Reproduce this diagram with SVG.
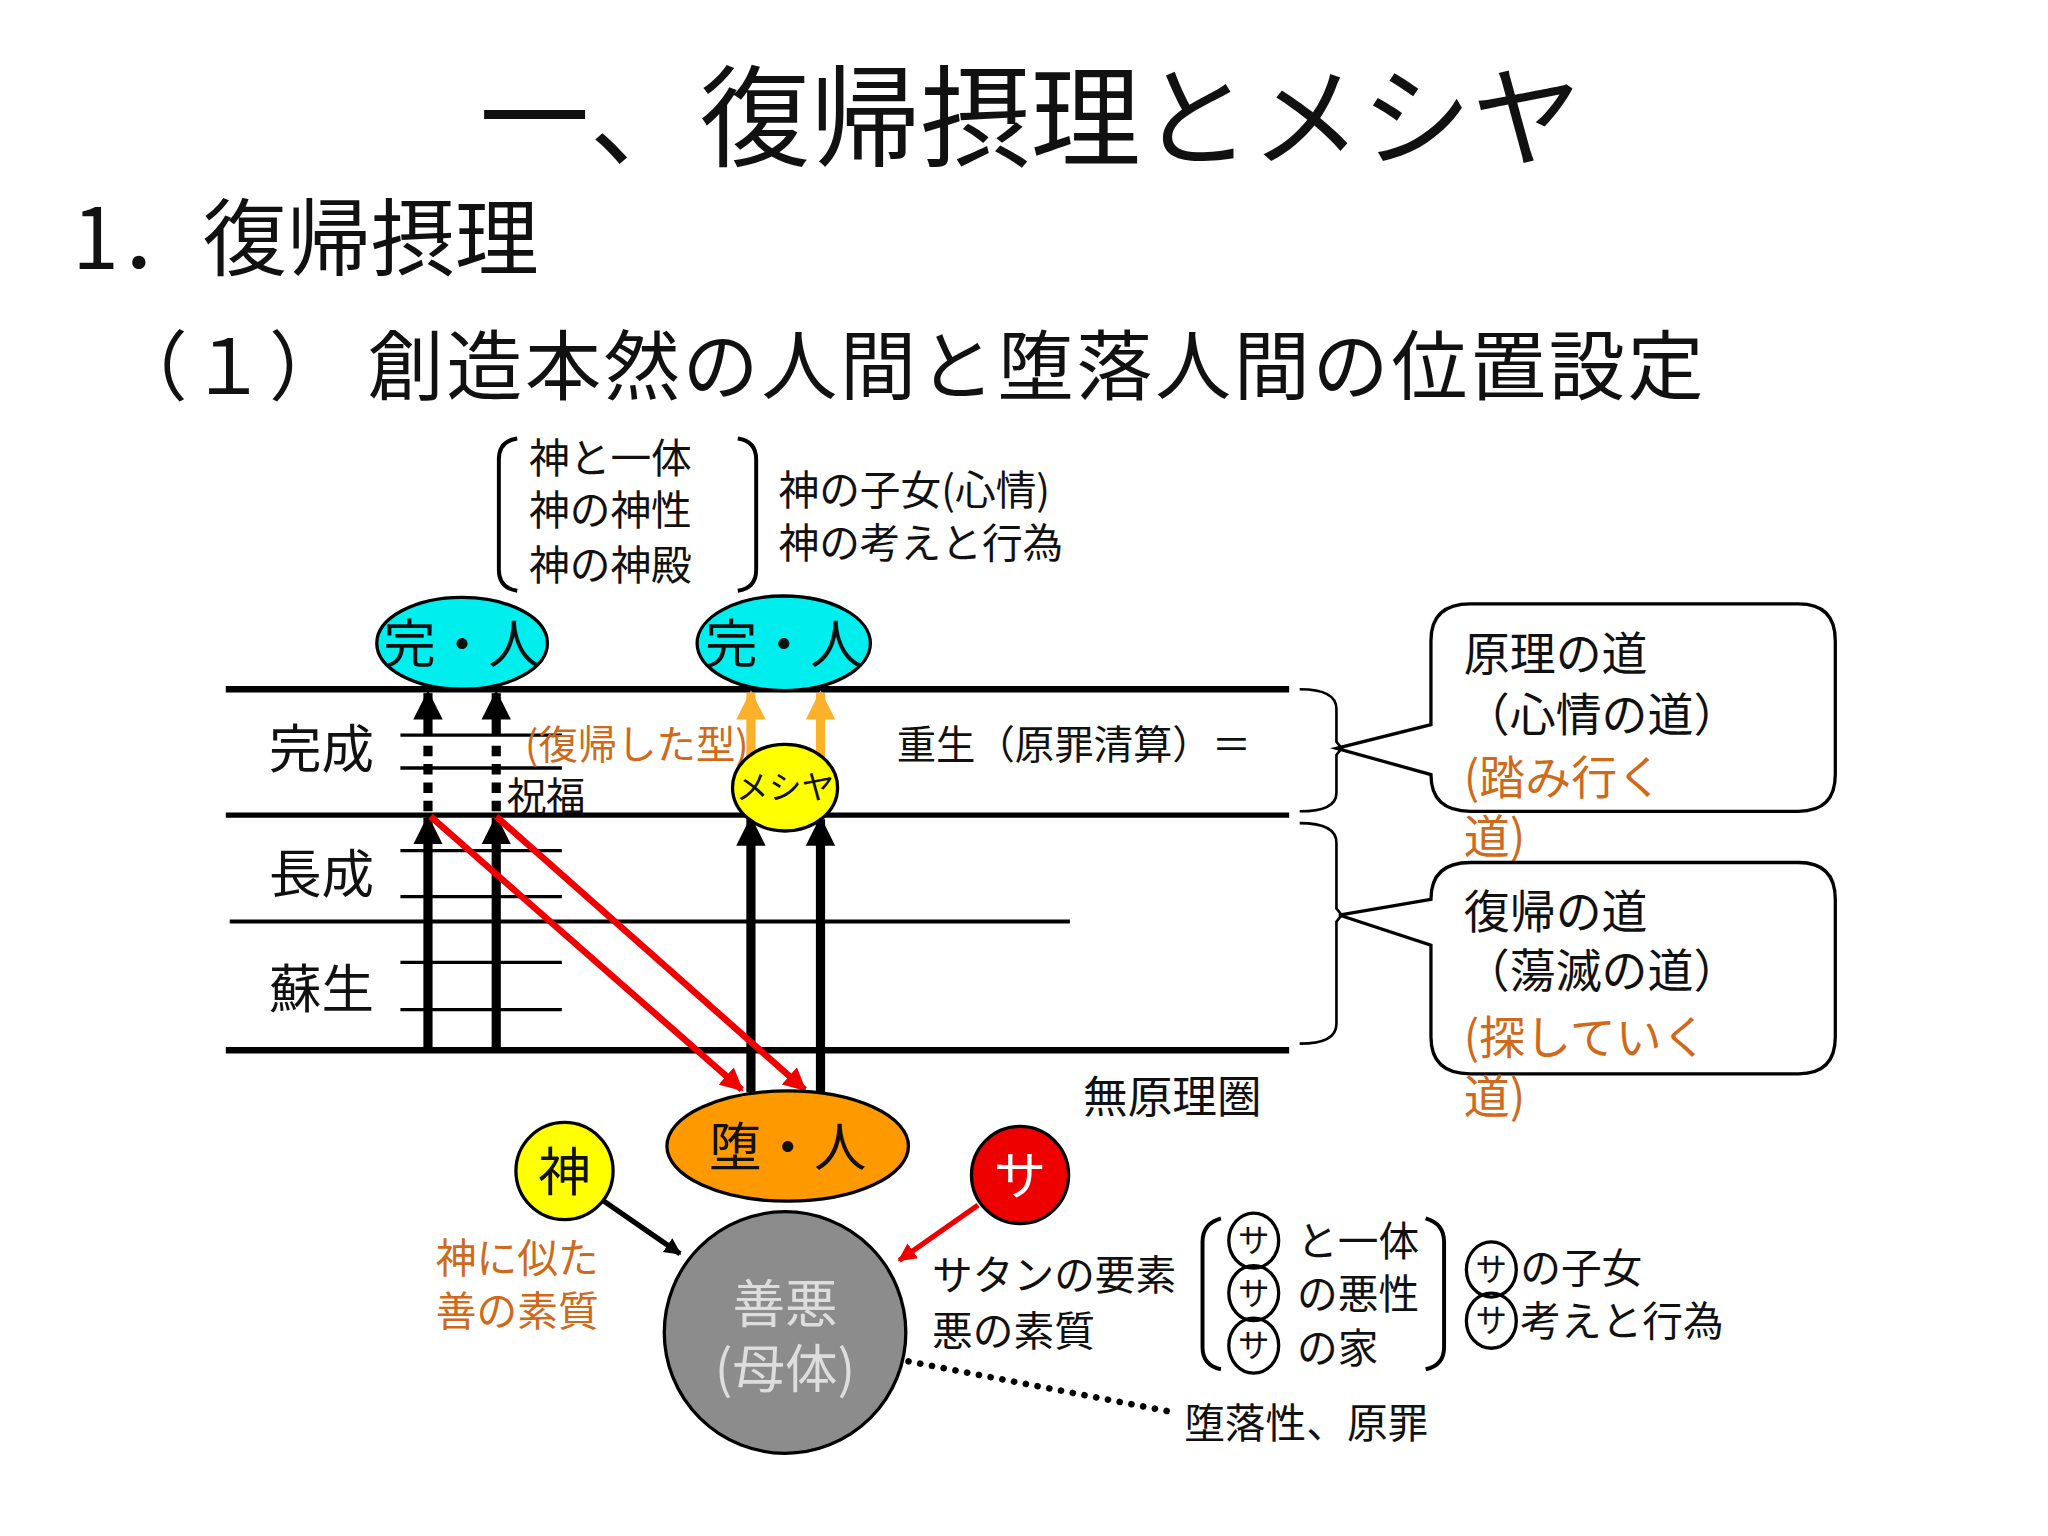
<svg xmlns="http://www.w3.org/2000/svg" width="2048" height="1536" viewBox="0 0 2048 1536">
<defs>
<style>
text{font-family:"Noto Sans CJK JP","Liberation Serif",sans-serif;fill:#111}
.o{fill:#d06a1a}
.k{stroke:#000;fill:none}
</style>
<marker id="ab" viewBox="0 0 10 10" refX="9" refY="5" markerWidth="3.2" markerHeight="4.5" orient="auto" markerUnits="strokeWidth"><path d="M0,0L10,5L0,10z" fill="#000"/></marker>
<marker id="ao" viewBox="0 0 10 10" refX="9" refY="5" markerWidth="3.2" markerHeight="4.5" orient="auto" markerUnits="strokeWidth"><path d="M0,0L10,5L0,10z" fill="#fbb12a"/></marker>
<marker id="ar" viewBox="0 0 10 10" refX="9" refY="5" markerWidth="3.5" markerHeight="3.5" orient="auto" markerUnits="strokeWidth"><path d="M0,0L10,5L0,10z" fill="#e00"/></marker>
</defs>
<rect width="2048" height="1536" fill="#fff"/>
<g transform="scale(1.3128)">
<g id="titles">
<text x="785" y="120" font-size="84" text-anchor="middle">一、復帰摂理とメシヤ</text>
<text x="55" y="205" font-size="64">1．復帰摂理</text>
<text x="85" y="300" font-size="58" letter-spacing="2">（１） 創造本然の人間と堕落人間の位置設定</text>
</g>
<g id="top-bracket">
<path class="k" stroke-width="3" d="M394,334 Q380,336 380,350 L380,434 Q380,448 394,450"/>
<path class="k" stroke-width="3" d="M562,334 Q576,336 576,350 L576,434 Q576,448 562,450"/>
<text x="403" y="360" font-size="31">神と一体</text>
<text x="403" y="400" font-size="31">神の神性</text>
<text x="403" y="442" font-size="31">神の神殿</text>
<text x="593" y="385" font-size="31">神の子女(心情)</text>
<text x="593" y="425" font-size="31">神の考えと行為</text>
</g>
<g id="grid">
<g stroke="#000">
<line x1="172" y1="525" x2="982" y2="525" stroke-width="5"/>
<line x1="172" y1="621" x2="982" y2="621" stroke-width="4"/>
<line x1="175" y1="702" x2="815" y2="702" stroke-width="3"/>
<line x1="172" y1="800" x2="982" y2="800" stroke-width="5"/>
<g stroke-width="2.5">
<line x1="305" y1="560" x2="428" y2="560"/><line x1="305" y1="585" x2="428" y2="585"/>
<line x1="305" y1="648" x2="428" y2="648"/><line x1="305" y1="683" x2="428" y2="683"/>
<line x1="305" y1="733" x2="428" y2="733"/><line x1="305" y1="769" x2="428" y2="769"/>
</g>
</g>
<text x="205" y="585" font-size="40">完成</text>
<text x="205" y="680" font-size="40">長成</text>
<text x="205" y="768" font-size="40">蘇生</text>
<text x="400" y="578" font-size="30" class="o">(復帰した型)</text>
<text x="386" y="618" font-size="30">祝福</text>
<text x="683" y="578" font-size="30">重生（原罪清算）＝</text>
<text x="825" y="848" font-size="34">無原理圏</text>
</g>
<g id="connectors">
<g stroke="#000" stroke-width="7">
<line x1="326" y1="618" x2="326" y2="562" stroke-dasharray="8,6"/>
<line x1="378" y1="618" x2="378" y2="562" stroke-dasharray="8,6"/>
<line x1="326" y1="800" x2="326" y2="623" marker-end="url(#ab)"/>
<line x1="378" y1="800" x2="378" y2="623" marker-end="url(#ab)"/>
<line x1="326" y1="560" x2="326" y2="528" marker-end="url(#ab)"/>
<line x1="378" y1="560" x2="378" y2="528" marker-end="url(#ab)"/>
<line x1="572" y1="832" x2="572" y2="624" marker-end="url(#ab)"/>
<line x1="625" y1="832" x2="625" y2="624" marker-end="url(#ab)"/>
</g>
<g stroke="#fbb12a" stroke-width="7">
<line x1="572" y1="590" x2="572" y2="528" marker-end="url(#ao)"/>
<line x1="625" y1="590" x2="625" y2="528" marker-end="url(#ao)"/>
</g>
<g stroke="#e00" stroke-width="5">
<line x1="328" y1="622" x2="565" y2="830" marker-end="url(#ar)"/>
<line x1="378" y1="622" x2="613" y2="830" marker-end="url(#ar)"/>
</g>
<line x1="745" y1="918" x2="685" y2="960" stroke="#e00" stroke-width="4" marker-end="url(#ar)"/>
<line x1="460" y1="915" x2="518" y2="955" stroke="#000" stroke-width="4" marker-end="url(#ab)"/>
<line x1="692" y1="1037" x2="890" y2="1075" stroke="#000" stroke-width="5" stroke-dasharray="0.1,9" stroke-linecap="round"/>
<path class="k" stroke-width="2" d="M990,525 Q1018,525 1018,540 L1018,565 L1022,570 L1018,575 L1018,604 Q1018,618 990,618"/>
<path class="k" stroke-width="2" d="M990,627 Q1018,627 1018,642 L1018,692 L1022,697 L1018,702 L1018,780 Q1018,795 990,795"/>
</g>
<g id="n-kan1"><ellipse cx="352" cy="490" rx="65" ry="35" fill="#0ee" stroke="#000" stroke-width="2.5"/><text x="352" y="505" font-size="40" text-anchor="middle">完・人</text></g>
<g id="n-kan2"><ellipse cx="597" cy="490" rx="66" ry="36" fill="#0ee" stroke="#000" stroke-width="2.5"/><text x="597" y="505" font-size="40" text-anchor="middle">完・人</text></g>
<g id="n-messiah"><ellipse cx="598" cy="600" rx="40" ry="33" fill="#ff0" stroke="#000" stroke-width="2.5"/><text x="598" y="609" font-size="25" text-anchor="middle">メシヤ</text></g>
<g id="n-da"><ellipse cx="600" cy="873" rx="92" ry="42" fill="#f90" stroke="#000" stroke-width="2.5"/><text x="600" y="888" font-size="40" text-anchor="middle">堕・人</text></g>
<g id="n-kami"><circle cx="430" cy="892" r="37" fill="#ff0" stroke="#000" stroke-width="2.5"/><text x="430" y="907" font-size="40" text-anchor="middle">神</text></g>
<g id="n-sa"><circle cx="777" cy="895" r="37" fill="#e00" stroke="#000" stroke-width="2.5"/><text x="777" y="910" font-size="40" text-anchor="middle" style="fill:#fff">サ</text></g>
<g id="n-zenaku"><circle cx="598" cy="1015" r="92" fill="#8c8c8c" stroke="#000" stroke-width="2.5"/><text x="598" y="1008" font-size="40" text-anchor="middle" style="fill:#ddd">善悪</text><text x="598" y="1057" font-size="40" text-anchor="middle" style="fill:#ddd">(母体)</text></g>
<g id="callout1">
<path class="k" stroke-width="2.5" fill="#fff" d="M1120,460 L1370,460 Q1398,460 1398,488 L1398,590 Q1398,618 1370,618 L1120,618 Q1090,618 1090,590 L1018,570 L1090,552 L1090,488 Q1090,460 1120,460Z"/>
<text x="1115" y="510" font-size="35">原理の道</text>
<text x="1115" y="557" font-size="35">（心情の道）</text>
<text x="1115" y="605" font-size="35" class="o">(踏み行く</text>
<text x="1115" y="650" font-size="35" class="o">道)</text>
</g>
<g id="callout2">
<path class="k" stroke-width="2.5" fill="#fff" d="M1120,657 L1370,657 Q1398,657 1398,685 L1398,790 Q1398,818 1370,818 L1120,818 Q1090,818 1090,790 L1090,720 L1020,697 L1090,685 Q1090,657 1120,657Z"/>
<text x="1115" y="707" font-size="35">復帰の道</text>
<text x="1115" y="752" font-size="35">（蕩滅の道）</text>
<text x="1115" y="803" font-size="35" class="o">(探していく</text>
<text x="1115" y="848" font-size="35" class="o">道)</text>
</g>
<g id="bottom-labels">
<text x="332" y="970" font-size="31" class="o">神に似た</text>
<text x="332" y="1010" font-size="31" class="o">善の素質</text>
<text x="710" y="983" font-size="31">サタンの要素</text>
<text x="710" y="1025" font-size="31">悪の素質</text>
<text x="902" y="1095" font-size="31">堕落性、原罪</text>
<path class="k" stroke-width="3" d="M930,928 Q916,932 916,946 L916,1026 Q916,1040 930,1043"/>
<path class="k" stroke-width="3" d="M1086,928 Q1100,932 1100,946 L1100,1026 Q1100,1040 1086,1043"/>
<g stroke="#000" stroke-width="2.5" fill="none">
<ellipse cx="955" cy="945" rx="19" ry="21"/><ellipse cx="955" cy="985" rx="19" ry="21"/><ellipse cx="955" cy="1025" rx="19" ry="21"/>
<ellipse cx="1136" cy="967" rx="19" ry="21"/><ellipse cx="1136" cy="1006" rx="19" ry="21"/>
</g>
<g font-size="24" text-anchor="middle">
<text x="955" y="954">サ</text><text x="955" y="994">サ</text><text x="955" y="1034">サ</text>
<text x="1136" y="976">サ</text><text x="1136" y="1015">サ</text>
</g>
<text x="988" y="957" font-size="31">と一体</text>
<text x="988" y="997" font-size="31">の悪性</text>
<text x="988" y="1038" font-size="31">の家</text>
<text x="1158" y="977" font-size="31">の子女</text>
<text x="1158" y="1018" font-size="31">考えと行為</text>
</g>
</g>
</svg>
